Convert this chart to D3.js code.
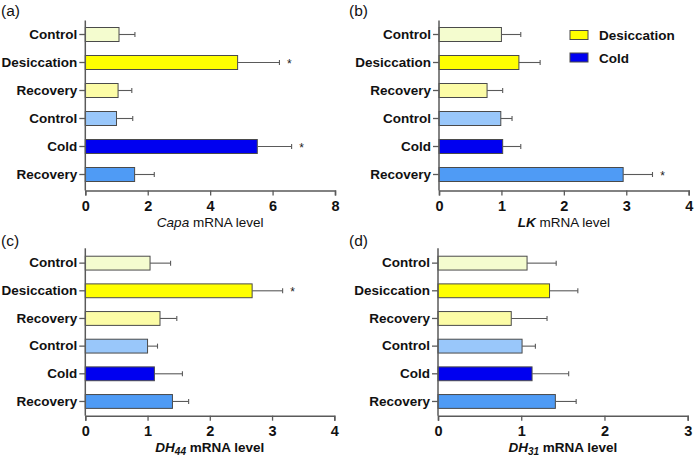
<!DOCTYPE html>
<html><head><meta charset="utf-8">
<script src="https://cdn.jsdelivr.net/npm/d3@7"></script>
<style>body{margin:0;background:#fff}svg{display:block;font-family:"Liberation Sans",Arial,sans-serif}</style>
</head><body>
<svg id="chart" width="694" height="459"></svg>
<script>
const categories = ["Control","Desiccation","Recovery","Control","Cold","Recovery"];
const barColors = ["#f4fccf","#ffff00","#fcfca6","#99c7fa","#0000f0","#4f9bf5"];

const capaMean = [1.08,4.88,1.05,1.00,5.51,1.58];
const capaSem  = [0.51,1.34,0.44,0.52,1.10,0.63];
const capaSig  = [0,1,0,0,1,0];

const lkMean = [1.00,1.28,0.77,0.99,1.02,2.95];
const lkSem  = [0.31,0.34,0.25,0.18,0.29,0.47];
const lkSig  = [0,0,0,0,0,1];

const dh44Mean = [1.04,2.68,1.20,1.00,1.11,1.40];
const dh44Sem  = [0.33,0.49,0.27,0.16,0.45,0.26];
const dh44Sig  = [0,1,0,0,0,0];

const dh31Mean = [1.07,1.34,0.88,1.01,1.13,1.41];
const dh31Sem  = [0.35,0.34,0.43,0.16,0.44,0.25];
const dh31Sig  = [0,0,0,0,0,0];

const xTicksA = [0,2,4,6,8];
const xTicksB = [0,1,2,3,4];
const xTicksC = [0,1,2,3,4];
const xTicksD = [0,1,2,3];

const legendLabels = ["Desiccation","Cold"];
const legendColors = ["#ffff00","#0000f0"];

const panels = [
  {label:"(a)", gene:"Capa", sub:null, mean:capaMean, sem:capaSem, sig:capaSig, ticks:xTicksA, x:85.3, y:20.5, w:249.7, h:170, r:[0,168], lx:1, ly:16, bold:false},
  {label:"(b)", gene:"LK", sub:null, mean:lkMean, sem:lkSem, sig:lkSig, ticks:xTicksB, x:439, y:20.5, w:249.7, h:170, r:[0,168], lx:349, ly:16, bold:false},
  {label:"(c)", gene:"DH", sub:"44", mean:dh44Mean, sem:dh44Sem, sig:dh44Sig, ticks:xTicksC, x:85.3, y:248.3, w:249, h:167.4, r:[1,167], lx:1, ly:246, bold:true},
  {label:"(d)", gene:"DH", sub:"31", mean:dh31Mean, sem:dh31Sem, sig:dh31Sig, ticks:xTicksD, x:438, y:248.3, w:249.7, h:167.4, r:[1,167], lx:349, ly:246, bold:true}
];

const svg = d3.select("#chart");
const axisColor = "#5a5a5a";

panels.forEach(p => {
  svg.append("text").attr("x", p.lx).attr("y", p.ly).attr("font-size", 15.5).attr("fill","#111").text(p.label);
  const g = svg.append("g").attr("transform", `translate(${p.x},${p.y})`);
  const x = d3.scaleLinear().domain([0, d3.max(p.ticks)]).range([0, p.w]);
  const y = d3.scaleBand().domain(d3.range(categories.length)).range(p.r).paddingInner(0.5).paddingOuter(0.25);

  // bars
  g.selectAll("rect.bar").data(p.mean).join("rect").attr("class","bar")
    .attr("x", x(0)).attr("y", (d,i)=>y(i)).attr("width", d=>x(d)-x(0)).attr("height", y.bandwidth())
    .attr("fill", (d,i)=>barColors[i]).attr("stroke","#4a4a4a").attr("stroke-width",1);

  // error bars
  const eb = g.selectAll("g.eb").data(p.mean).join("g").attr("class","eb");
  eb.append("line").attr("x1", d=>x(d)).attr("x2", (d,i)=>x(d+p.sem[i]))
    .attr("y1", (d,i)=>y(i)+y.bandwidth()/2).attr("y2", (d,i)=>y(i)+y.bandwidth()/2)
    .attr("stroke", axisColor).attr("stroke-width",1.1);
  eb.append("line").attr("x1", (d,i)=>x(d+p.sem[i])).attr("x2", (d,i)=>x(d+p.sem[i]))
    .attr("y1", (d,i)=>y(i)+y.bandwidth()/2-2.5).attr("y2", (d,i)=>y(i)+y.bandwidth()/2+2.5)
    .attr("stroke", axisColor).attr("stroke-width",1.1);

  // significance
  p.mean.forEach((d,i) => {
    if (p.sig[i]) {
      g.append("text").attr("x", x(d+p.sem[i])+10).attr("y", y(i)+y.bandwidth()/2+5)
        .attr("text-anchor","middle").attr("font-size",12).attr("fill","#222").text("*");
    }
  });

  // x axis
  const xa = g.append("g").attr("transform", `translate(0,${p.h})`)
    .call(d3.axisBottom(x).tickValues(p.ticks).tickFormat(d3.format("d")).tickSizeOuter(0).tickSize(5));
  xa.select(".domain").attr("stroke", axisColor).attr("stroke-width",1.5);
  xa.selectAll(".tick line").attr("stroke", axisColor).attr("stroke-width",1.3);
  xa.selectAll(".tick text").attr("font-size",14.5).attr("font-weight","bold").attr("fill","#111")
    .attr("font-family",'"Liberation Sans",Arial,sans-serif').attr("dy","0.85em");

  // y axis
  const ya = g.append("g").call(d3.axisLeft(y).tickFormat(i=>categories[i]).tickSizeOuter(0).tickSize(6).tickPadding(2));
  ya.select(".domain").attr("stroke", axisColor).attr("stroke-width",1.5).attr("d", `M0,0V${p.h}`);
  ya.selectAll(".tick line").attr("stroke", axisColor).attr("stroke-width",1.3);
  ya.selectAll(".tick text").attr("font-size",13.5).attr("font-weight","bold").attr("fill","#111")
    .attr("font-family",'"Liberation Sans",Arial,sans-serif');

  // axis title
  const t = g.append("text").attr("x", p.w/2).attr("y", p.h + 36).attr("text-anchor","middle")
    .attr("font-size",13.5).attr("fill","#111").attr("font-weight", p.bold ? "bold" : "normal");
  t.append("tspan").attr("font-style","italic").attr("font-weight", p.gene==="LK" ? "bold" : null).text(p.gene);
  if (p.sub) t.append("tspan").attr("font-style","italic").attr("font-size",10).attr("dy",3).text(p.sub);
  t.append("tspan").attr("dy", p.sub ? -3 : 0).text(" mRNA level");
});

// legend
const lg = svg.append("g");
legendLabels.forEach((l,i) => {
  lg.append("rect").attr("x",570).attr("y",30.5+i*22.5).attr("width",18).attr("height",9)
    .attr("fill",legendColors[i]).attr("stroke","#4a4a4a").attr("stroke-width",1);
  lg.append("text").attr("x",599).attr("y",40+i*22.5).attr("font-size",13.5).attr("font-weight","bold")
    .attr("fill","#111").text(l);
});
</script>
</body></html>
